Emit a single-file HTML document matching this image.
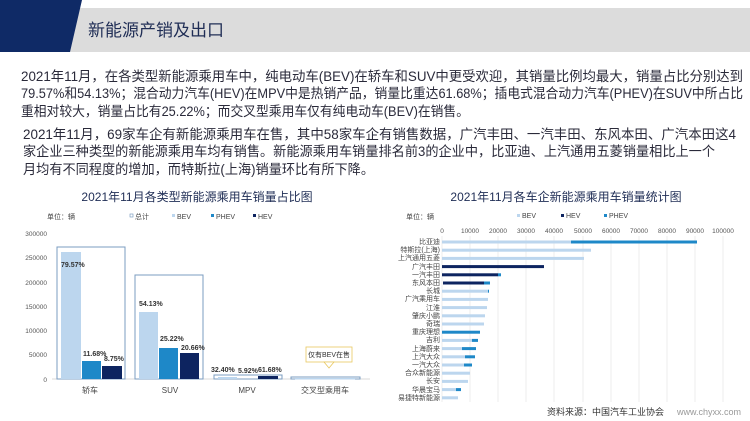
<!DOCTYPE html>
<html><head><meta charset="utf-8"><style>
body{margin:0;background:#fff}
svg{display:block;font-family:"Liberation Sans","Noto Sans CJK SC",sans-serif}
</style></head><body>
<svg width="750" height="421" viewBox="0 0 750 421" xmlns="http://www.w3.org/2000/svg">
<rect width="750" height="421" fill="#fff"/>
<rect x="60" y="8" width="690" height="44" fill="#dcdcdc"/>
<polygon points="0,0 82,0 70,52 0,52" fill="#0f2a66"/>
<text x="88" y="36" font-size="17" fill="#1f2d55">新能源产销及出口</text>
<g font-size="13.5" fill="#2a2a3a">
<text x="21" y="81" textLength="722" lengthAdjust="spacingAndGlyphs">2021年11月，在各类型新能源乘用车中，纯电动车(BEV)在轿车和SUV中更受欢迎，其销量比例均最大，销量占比分别达到</text>
<text x="21" y="98" textLength="722" lengthAdjust="spacingAndGlyphs">79.57%和54.13%；混合动力汽车(HEV)在MPV中是热销产品，销量比重达61.68%；插电式混合动力汽车(PHEV)在SUV中所占比</text>
<text x="21" y="116" textLength="448" lengthAdjust="spacingAndGlyphs">重相对较大，销量占比有25.22%；而交叉型乘用车仅有纯电动车(BEV)在销售。</text>
<text x="23" y="139" textLength="713" lengthAdjust="spacingAndGlyphs">2021年11月，69家车企有新能源乘用车在售，其中58家车企有销售数据，广汽丰田、一汽丰田、东风本田、广汽本田这4</text>
<text x="23" y="156" textLength="692" lengthAdjust="spacingAndGlyphs">家企业三种类型的新能源乘用车均有销售。新能源乘用车销量排名前3的企业中，比亚迪、上汽通用五菱销量相比上一个</text>
<text x="23" y="174" textLength="351" lengthAdjust="spacingAndGlyphs">月均有不同程度的增加，而特斯拉(上海)销量环比有所下降。</text>
</g>
<text x="197" y="201" font-size="12" fill="#1f2d55" text-anchor="middle">2021年11月各类型新能源乘用车销量占比图</text>
<g font-size="7" fill="#444">
<text x="47" y="219">单位：辆</text>
<rect x="130" y="214" width="3" height="3" fill="none" stroke="#6b8fb8" stroke-width="0.6"/><text x="135" y="219">总计</text>
<rect x="172" y="214" width="3" height="3" fill="#bcd6ee"/><text x="177" y="219">BEV</text>
<rect x="211" y="214" width="3" height="3" fill="#1e88c8"/><text x="216" y="219">PHEV</text>
<rect x="253" y="214" width="3" height="3" fill="#0d2460"/><text x="258" y="219">HEV</text>
</g>
<g font-size="6.5" fill="#555" text-anchor="end">
<text x="47" y="236">300000</text><text x="47" y="260">250000</text><text x="47" y="285">200000</text>
<text x="47" y="309">150000</text><text x="47" y="333">100000</text><text x="47" y="357">50000</text><text x="47" y="382">0</text>
</g>
<line x1="52" y1="379" x2="370" y2="379" stroke="#ccc" stroke-width="0.8"/>
<g fill="none" stroke="#7b9cc0" stroke-width="1">
<rect x="57" y="247" width="68" height="132"/>
<rect x="135" y="275" width="68" height="104"/>
<rect x="214" y="375" width="68" height="4"/>
<rect x="291" y="377" width="69" height="2"/>
</g>
<rect x="61" y="252" width="20" height="127" fill="#bcd6ee"/>
<rect x="82" y="361" width="19" height="18" fill="#1e88c8"/>
<rect x="102" y="366" width="20" height="13" fill="#0d2460"/>
<rect x="139" y="312" width="19" height="67" fill="#bcd6ee"/>
<rect x="159" y="348" width="19" height="31" fill="#1e88c8"/>
<rect x="180" y="353" width="19" height="26" fill="#0d2460"/>
<rect x="218" y="377" width="19" height="2" fill="#bcd6ee"/>
<rect x="258" y="376" width="20" height="3" fill="#0d2460"/>
<rect x="295" y="378" width="60" height="1.5" fill="#bcd6ee"/>
<g font-size="7" fill="#333" font-weight="bold">
<text x="61" y="267">79.57%</text>
<text x="83" y="356">11.68%</text><text x="104" y="361">8.75%</text>
<text x="139" y="306">54.13%</text><text x="160" y="341">25.22%</text><text x="181" y="350">20.66%</text>
<text x="211" y="372">32.40%</text><text x="238" y="373">5.92%</text><text x="258" y="372">61.68%</text>
</g>
<rect x="306" y="347" width="46" height="15" fill="#fff" stroke="#e8c860" stroke-width="0.8"/>
<polygon points="324,362 334,362 329,368" fill="#fff" stroke="#e8c860" stroke-width="0.8"/>
<text x="329" y="357" font-size="7" fill="#333" text-anchor="middle">仅有BEV在售</text>
<g font-size="8" fill="#444" text-anchor="middle">
<text x="90" y="393">轿车</text><text x="170" y="393">SUV</text><text x="247" y="393">MPV</text><text x="325" y="393">交叉型乘用车</text>
</g>
<text x="566" y="201" font-size="12" fill="#1f2d55" text-anchor="middle">2021年11月各车企新能源乘用车销量统计图</text>
<g font-size="7" fill="#444">
<text x="406" y="219">单位：辆</text>
<rect x="517" y="214" width="3" height="3" fill="#bcd6ee"/><text x="522" y="218">BEV</text>
<rect x="561" y="214" width="3" height="3" fill="#0d2460"/><text x="566" y="218">HEV</text>
<rect x="604" y="214" width="3" height="3" fill="#1e88c8"/><text x="609" y="218">PHEV</text>
</g>
<g stroke="#e6e6e6" stroke-width="0.7">
<line x1="442" y1="236" x2="442" y2="402"/><line x1="470" y1="236" x2="470" y2="402"/><line x1="498" y1="236" x2="498" y2="402"/>
<line x1="526" y1="236" x2="526" y2="402"/><line x1="554" y1="236" x2="554" y2="402"/><line x1="583" y1="236" x2="583" y2="402"/>
<line x1="611" y1="236" x2="611" y2="402"/><line x1="639" y1="236" x2="639" y2="402"/><line x1="667" y1="236" x2="667" y2="402"/>
<line x1="695" y1="236" x2="695" y2="402"/><line x1="723" y1="236" x2="723" y2="402"/>
</g>
<g font-size="6.5" fill="#555" text-anchor="middle">
<text x="442" y="233">0</text><text x="470" y="233">10000</text><text x="498" y="233">20000</text><text x="526" y="233">30000</text>
<text x="554" y="233">40000</text><text x="583" y="233">50000</text><text x="611" y="233">60000</text><text x="639" y="233">70000</text>
<text x="667" y="233">80000</text><text x="695" y="233">90000</text><text x="723" y="233">100000</text>
</g>
<g font-size="7" fill="#444" text-anchor="end">
<text x="440" y="244">比亚迪</text><text x="440" y="252">特斯拉(上海)</text><text x="440" y="260">上汽通用五菱</text>
<text x="440" y="269">广汽丰田</text><text x="440" y="277">一汽丰田</text><text x="440" y="285">东风本田</text>
<text x="440" y="293">长城</text><text x="440" y="301">广汽乘用车</text><text x="440" y="310">江淮</text>
<text x="440" y="318">肇庆小鹏</text><text x="440" y="326">奇瑞</text><text x="440" y="334">重庆理想</text>
<text x="440" y="342">吉利</text><text x="440" y="351">上海蔚来</text><text x="440" y="359">上汽大众</text>
<text x="440" y="367">一汽大众</text><text x="440" y="375">合众新能源</text><text x="440" y="383">长安</text>
<text x="440" y="392">华晨宝马</text><text x="440" y="400">易捷特新能源</text>
</g>
<g>
<rect x="442" y="240.5" width="129" height="3" fill="#bcd6ee"/><rect x="571" y="240.5" width="126" height="3" fill="#1e88c8"/>
<rect x="442" y="248.7" width="149" height="3" fill="#bcd6ee"/>
<rect x="442" y="256.9" width="142" height="3" fill="#bcd6ee"/>
<rect x="442" y="265.1" width="102" height="3" fill="#0d2460"/>
<rect x="442" y="273.3" width="56" height="3" fill="#0d2460"/><rect x="498" y="273.3" width="3" height="3" fill="#1e88c8"/>
<rect x="443" y="281.5" width="41" height="3" fill="#0d2460"/><rect x="484" y="281.5" width="6" height="3" fill="#1e88c8"/>
<rect x="442" y="289.7" width="46" height="3" fill="#bcd6ee"/><rect x="488" y="289.7" width="1" height="3" fill="#1e88c8"/>
<rect x="442" y="297.9" width="46" height="3" fill="#bcd6ee"/>
<rect x="442" y="306.1" width="45" height="3" fill="#bcd6ee"/>
<rect x="442" y="314.3" width="43" height="3" fill="#bcd6ee"/>
<rect x="442" y="322.5" width="42" height="3" fill="#bcd6ee"/>
<rect x="442" y="330.7" width="38" height="3" fill="#1e88c8"/>
<rect x="442" y="338.9" width="30" height="3" fill="#bcd6ee"/><rect x="472" y="338.9" width="6" height="3" fill="#1e88c8"/>
<rect x="442" y="347.1" width="20" height="3" fill="#bcd6ee"/><rect x="462" y="347.1" width="14" height="3" fill="#1e88c8"/>
<rect x="442" y="355.3" width="23" height="3" fill="#bcd6ee"/><rect x="465" y="355.3" width="10" height="3" fill="#1e88c8"/>
<rect x="442" y="363.5" width="22" height="3" fill="#bcd6ee"/><rect x="464" y="363.5" width="8" height="3" fill="#1e88c8"/>
<rect x="442" y="371.7" width="28" height="3" fill="#bcd6ee"/>
<rect x="442" y="379.9" width="26" height="3" fill="#bcd6ee"/>
<rect x="442" y="388.1" width="14" height="3" fill="#bcd6ee"/><rect x="456" y="388.1" width="5" height="3" fill="#1e88c8"/>
<rect x="442" y="396.3" width="16" height="3" fill="#bcd6ee"/>
</g>
<text x="547" y="415" font-size="9" fill="#333">资料来源：中国汽车工业协会</text>
<text x="677" y="415" font-size="9" fill="#999">www.chyxx.com</text>
</svg>
</body></html>
